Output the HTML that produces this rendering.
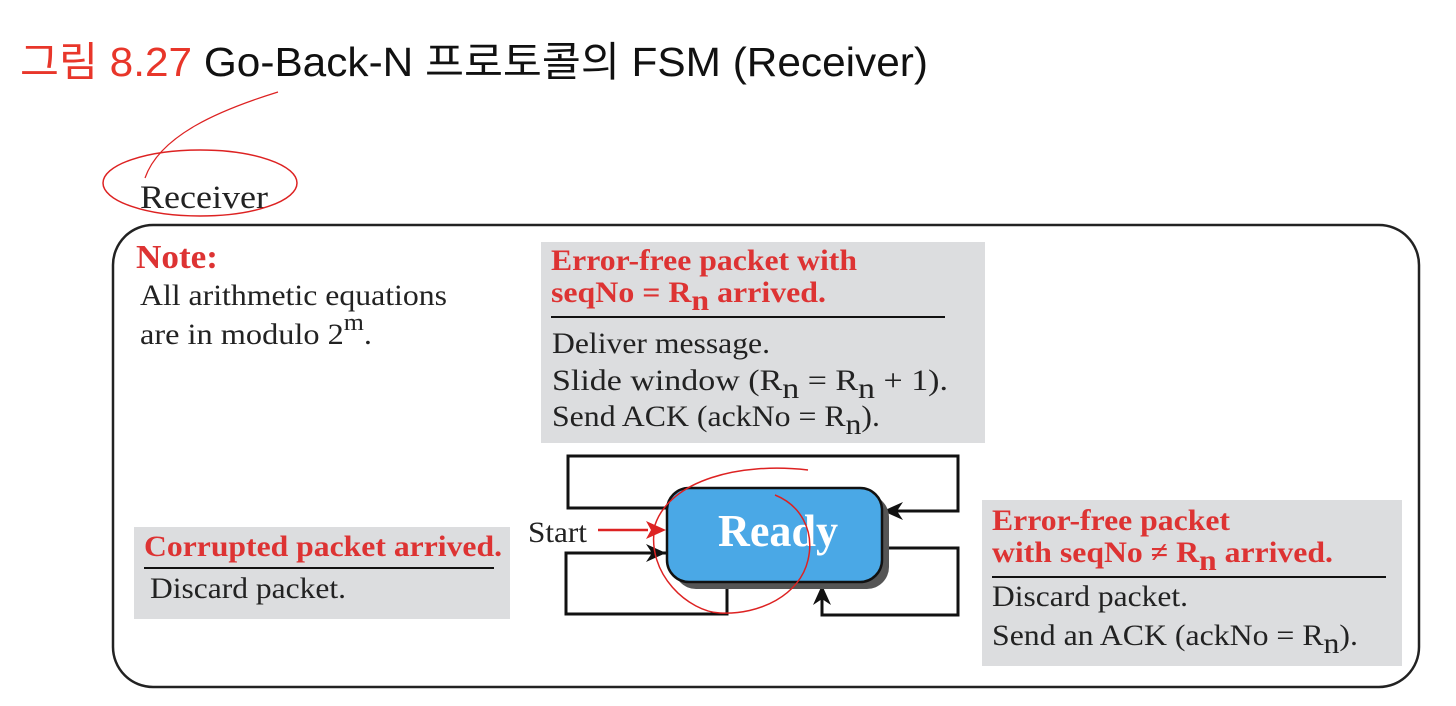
<!DOCTYPE html>
<html><head><meta charset="utf-8"><style>
html,body{margin:0;padding:0;background:#fff;}
svg{display:block;}
.s{font-family:"Liberation Serif",serif;}
.r{fill:#dd3333;font-weight:bold;}
</style></head><body>
<svg width="1456" height="706" viewBox="0 0 1456 706" xmlns="http://www.w3.org/2000/svg">
<defs>
<marker id="ab" markerWidth="22" markerHeight="20" refX="20" refY="10" orient="auto" markerUnits="userSpaceOnUse"><path d="M0,1 L20,10 L0,19 L6,10 Z" fill="#111"/></marker>
</defs>
<text x="20" y="76" font-family="Liberation Sans,'Noto Sans CJK KR',sans-serif" font-size="41" fill="#111" textLength="908" lengthAdjust="spacingAndGlyphs"><tspan fill="#e8362a">그림 8.27</tspan> Go-Back-N 프로토콜의 FSM (Receiver)</text>

<text class="s" x="140" y="208" font-size="33" fill="#222" textLength="128" lengthAdjust="spacingAndGlyphs">Receiver</text>
<ellipse cx="200" cy="183" rx="97" ry="33" fill="none" stroke="#d22" stroke-width="1.5"/>
<path d="M278,92 C220,110 160,135 145,178" fill="none" stroke="#d22" stroke-width="1.2"/>

<rect x="113" y="225" width="1306" height="462" rx="40" fill="none" stroke="#222" stroke-width="2.5"/>

<text class="s r" x="136" y="268" font-size="34" textLength="82" lengthAdjust="spacingAndGlyphs">Note:</text>
<text class="s" x="140" y="305" font-size="30" fill="#222" textLength="307" lengthAdjust="spacingAndGlyphs">All arithmetic equations</text>
<text class="s" x="140" y="344" font-size="30" fill="#222" textLength="232" lengthAdjust="spacingAndGlyphs">are in modulo 2<tspan dy="-14" font-size="24">m</tspan><tspan dy="14">.</tspan></text>

<rect x="541" y="242" width="444" height="201" fill="#dcdddf"/>
<text class="s r" x="551" y="270" font-size="30" textLength="306" lengthAdjust="spacingAndGlyphs">Error-free packet with</text>
<text class="s r" x="551" y="302" font-size="30" textLength="275" lengthAdjust="spacingAndGlyphs">seqNo = R<tspan dy="8">n</tspan><tspan dy="-8"> arrived.</tspan></text>
<line x1="551" y1="317" x2="945" y2="317" stroke="#111" stroke-width="2"/>
<text class="s" x="552" y="353" font-size="30" fill="#222" textLength="218" lengthAdjust="spacingAndGlyphs">Deliver message.</text>
<text class="s" x="552" y="390" font-size="30" fill="#222" textLength="396" lengthAdjust="spacingAndGlyphs">Slide window (R<tspan dy="8">n</tspan><tspan dy="-8"> = R</tspan><tspan dy="8">n</tspan><tspan dy="-8"> + 1).</tspan></text>
<text class="s" x="552" y="426" font-size="30" fill="#222" textLength="328" lengthAdjust="spacingAndGlyphs">Send ACK (ackNo = R<tspan dy="8">n</tspan><tspan dy="-8">).</tspan></text>

<rect x="134" y="527" width="376" height="92" fill="#dcdddf"/>
<text class="s r" x="144" y="556" font-size="30" textLength="358" lengthAdjust="spacingAndGlyphs">Corrupted packet arrived.</text>
<line x1="144" y1="568" x2="494" y2="568" stroke="#111" stroke-width="2"/>
<text class="s" x="150" y="598" font-size="30" fill="#222" textLength="196" lengthAdjust="spacingAndGlyphs">Discard packet.</text>

<rect x="982" y="500" width="420" height="166" fill="#dcdddf"/>
<text class="s r" x="992" y="530" font-size="30" textLength="238" lengthAdjust="spacingAndGlyphs">Error-free packet</text>
<text class="s r" x="992" y="562" font-size="30" textLength="341" lengthAdjust="spacingAndGlyphs">with seqNo ≠ R<tspan dy="8">n</tspan><tspan dy="-8"> arrived.</tspan></text>
<line x1="992" y1="577" x2="1386" y2="577" stroke="#111" stroke-width="2"/>
<text class="s" x="992" y="606" font-size="30" fill="#222" textLength="196" lengthAdjust="spacingAndGlyphs">Discard packet.</text>
<text class="s" x="992" y="645" font-size="30" fill="#222" textLength="366" lengthAdjust="spacingAndGlyphs">Send an ACK (ackNo = R<tspan dy="8">n</tspan><tspan dy="-8">).</tspan></text>

<!-- loops -->
<g fill="none" stroke="#111" stroke-width="3">
<path d="M668,508 H568 V456 H958 V511 H883" marker-end="url(#ab)"/>
<path d="M727,584 V614 H566 V553 H666" marker-end="url(#ab)"/>
<path d="M884,548 H958 V615 H822 V585" marker-end="url(#ab)"/>
</g>
<rect x="674" y="495" width="215" height="94" rx="22" fill="#555"/>
<rect x="667" y="488" width="215" height="94" rx="22" fill="#4aa8e6" stroke="#111" stroke-width="2.5"/>
<text class="s" x="718" y="546" font-size="45" font-weight="bold" fill="#fff" textLength="120" lengthAdjust="spacingAndGlyphs">Ready</text>

<text class="s" x="528" y="542" font-size="30" fill="#222" textLength="59" lengthAdjust="spacingAndGlyphs">Start</text>
<line x1="598" y1="530" x2="648" y2="530" stroke="#d22" stroke-width="2.5"/>
<path d="M666,530 L646,521 L651,530 L646,539 Z" fill="#d22"/>

<path d="M808,470 C740,462 670,480 655,525 C645,575 690,612 720,613 C760,615 800,595 808,560 C815,530 800,505 775,495" fill="none" stroke="#d22" stroke-width="1.5"/>
</svg>
</body></html>
